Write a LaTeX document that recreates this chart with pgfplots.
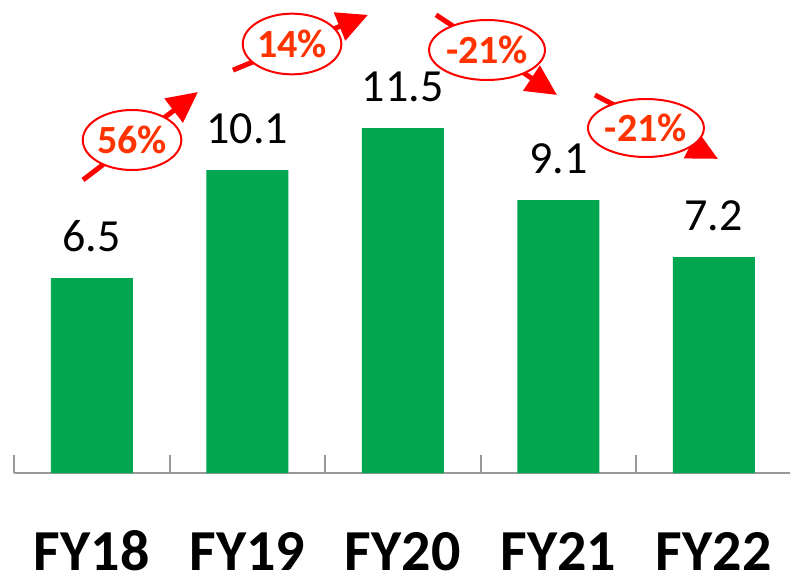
\documentclass[border=0pt]{standalone}
\usepackage{fontspec}
\setmainfont{Carlito}
\usepackage{pgfplots}
\pgfplotsset{compat=1.18}
\usetikzlibrary{arrows.meta,shapes.geometric}
\definecolor{bargreen}{HTML}{00A650}
\definecolor{axgray}{HTML}{999999}
\definecolor{pcttext}{HTML}{FF3300}
\definecolor{arrred}{HTML}{FF0000}
\begin{document}
\begin{tikzpicture}
\path[use as bounding box] (-10.5pt,-77.25pt) rectangle (582pt,354.75pt);
\begin{axis}[
  x=116.625pt, y=22.5pt,
  xmin=-0.5, xmax=4.5, ymin=0, ymax=15.77,
  clip=false,
  hide y axis,
  axis x line*=bottom,
  axis line style={-, draw=axgray, line width=1.5pt},
  xtick={0,1,2,3,4},
  xticklabels={FY18,FY19,FY20,FY21,FY22},
  major tick length=0pt,
  minor xtick={-0.5,0.5,1.5,2.5,3.5,4.5},
  tick align=inside,
  minor tick length=-13.5pt,
  xtick pos=bottom,
  tick style={draw=axgray, line width=1.5pt},
  xticklabel style={font=\bfseries\fontsize{43.5}{50}\selectfont, anchor=base, inner sep=0pt, yshift=-73pt},
  ybar, bar width=61.5pt,
  nodes near coords,
  every node near coord/.append style={font=\fontsize{34.5}{40}\selectfont, anchor=base, yshift=20.25pt, text=black},
  /pgf/number format/fixed, /pgf/number format/precision=1, /pgf/number format/fixed zerofill,
  /pgf/number format/assume math mode=true,
]
\addplot[fill=bargreen, draw=none] coordinates {(0,6.5) (1,10.1) (2,11.5) (3,9.1) (4,7.2)};

\draw[arrred, line width=3.75pt, -{Triangle[length=23pt,width=22pt]}] (axis cs:-0.056,9.77) -- (axis cs:0.683,12.7);
\node[draw=arrred, fill=white, ellipse, line width=1.5pt, minimum width=68pt, minimum height=45pt, inner sep=0pt, text=pcttext, font=\bfseries\fontsize{30}{34}\selectfont] at (axis cs:0.259,11.1) {56\%};

\draw[arrred, line width=3.75pt, -{Triangle[length=23pt,width=22pt]}] (axis cs:0.908,13.43) -- (axis cs:1.776,15.27);
\node[draw=arrred, fill=white, ellipse, line width=1.5pt, minimum width=69pt, minimum height=45.5pt, inner sep=0pt, text=pcttext, font=\bfseries\fontsize{30}{34}\selectfont] at (axis cs:1.288,14.3) {14\%};

\draw[arrred, line width=3.75pt, -{Triangle[length=23pt,width=22pt]}] (axis cs:2.214,15.27) -- (axis cs:2.992,12.6);
\node[draw=arrred, fill=white, ellipse, line width=1.5pt, minimum width=68pt, minimum height=45pt, inner sep=0pt, text=pcttext, font=\bfseries\fontsize{30}{34}\selectfont] at (axis cs:2.542,14.1) {-21\%};

\draw[arrred, line width=3.75pt, -{Triangle[length=23pt,width=22pt]}] (axis cs:3.236,12.6) -- (axis cs:4.027,10.47);
\node[draw=arrred, fill=white, ellipse, line width=1.5pt, minimum width=69pt, minimum height=43.5pt, inner sep=0pt, text=pcttext, font=\bfseries\fontsize{30}{34}\selectfont] at (axis cs:3.564,11.5) {-21\%};
\end{axis}
\end{tikzpicture}
\end{document}
